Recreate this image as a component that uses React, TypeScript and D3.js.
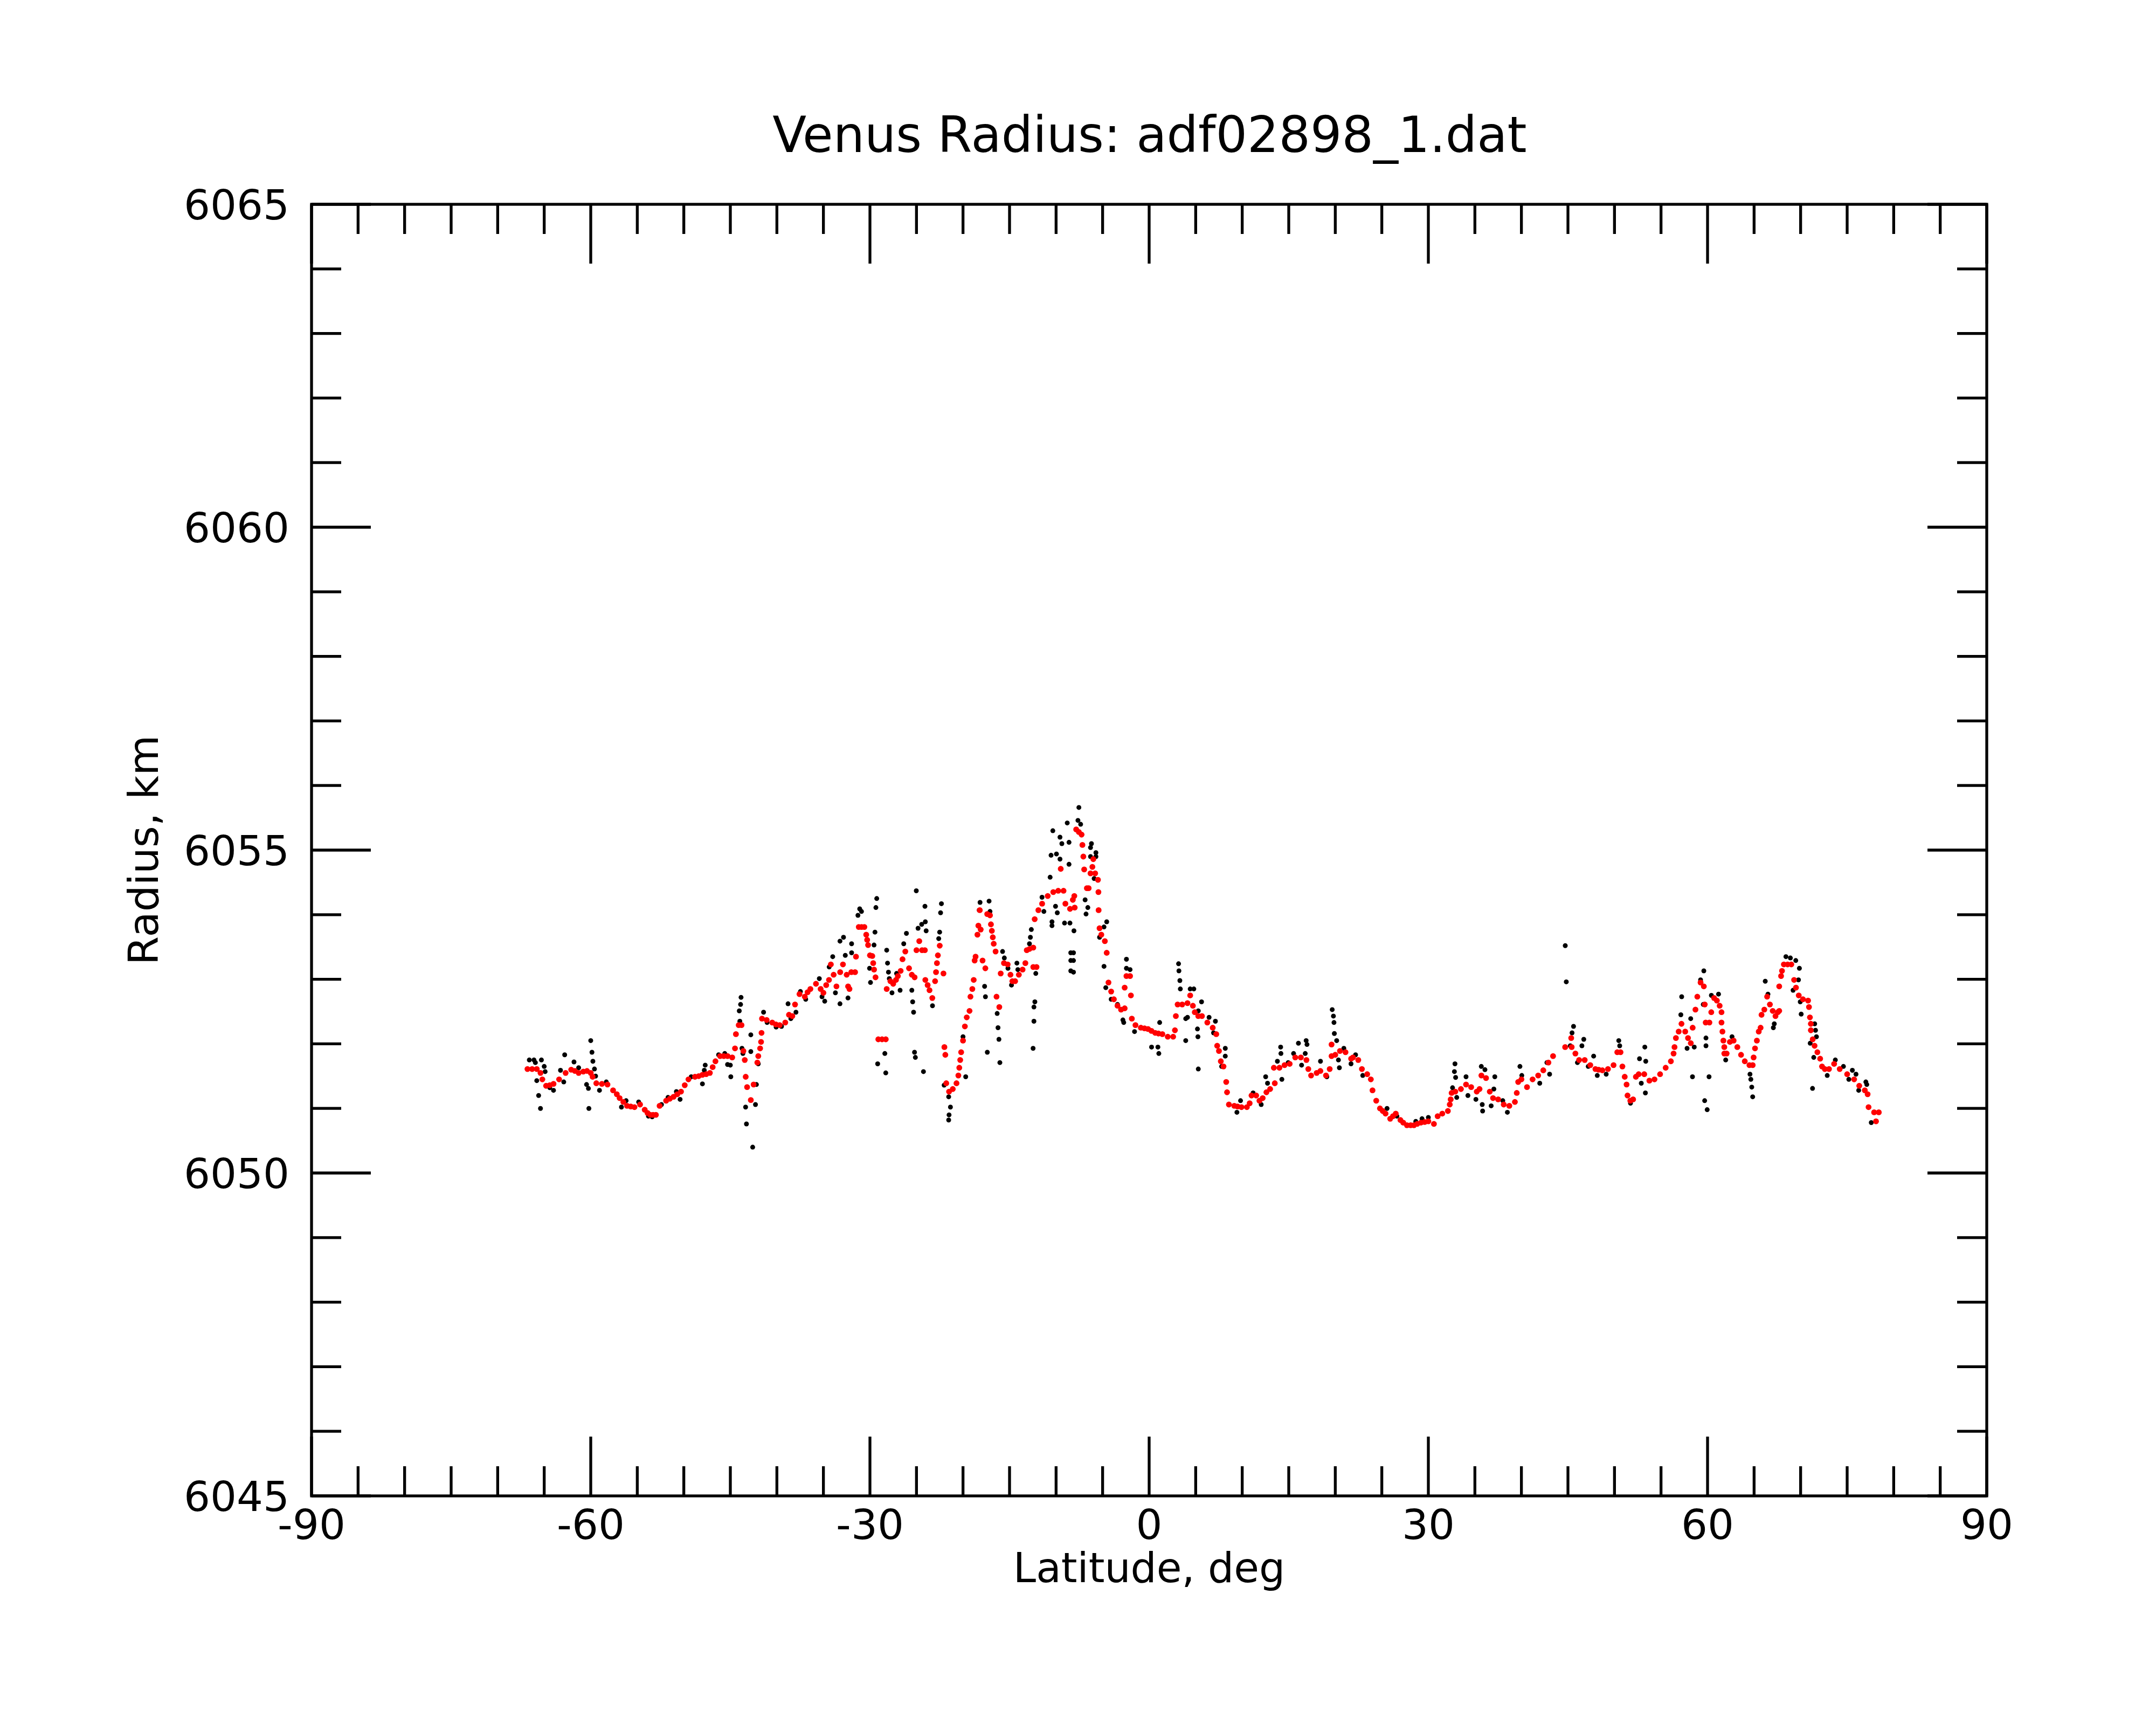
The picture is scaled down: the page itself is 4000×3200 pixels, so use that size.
import * as d3 from 'd3';

const WIDTH = 4000;
const HEIGHT = 3200;
const PLOT = { left: 578, right: 3686, top: 379, bottom: 2775 };

const TITLE = 'Venus Radius: adf02898_1.dat';
const X_LABEL = 'Latitude, deg';
const Y_LABEL = 'Radius, km';

const X_DOMAIN: [number, number] = [-90, 90];
const Y_DOMAIN: [number, number] = [6045, 6065];
const X_TICK_LABELS = [-90, -60, -30, 0, 30, 60, 90];
const Y_TICK_LABELS = [6045, 6050, 6055, 6060, 6065];

// smoothed radius (red), [latitude, radius km]
const smoothed: [number, number][] = [
  [-66.8, 6051.61], [-66.3, 6051.61], [-65.8, 6051.61], [-65.4, 6051.55], [-65.2, 6051.45], [-64.8, 6051.35],
  [-64.4, 6051.36], [-64.0, 6051.38], [-63.4, 6051.45], [-62.7, 6051.55], [-62.1, 6051.6], [-61.7, 6051.58],
  [-61.3, 6051.55], [-60.8, 6051.57], [-60.4, 6051.58], [-60.0, 6051.55], [-59.8, 6051.49], [-59.4, 6051.39],
  [-58.8, 6051.38], [-58.2, 6051.37], [-57.6, 6051.28], [-57.2, 6051.22], [-56.9, 6051.16], [-56.5, 6051.1],
  [-56.1, 6051.04], [-55.7, 6051.03], [-55.3, 6051.02], [-54.7, 6051.06], [-54.2, 6050.98], [-53.9, 6050.93],
  [-53.6, 6050.9], [-53.3, 6050.9], [-53.0, 6050.9], [-52.6, 6051.04], [-51.9, 6051.12], [-51.5, 6051.15],
  [-51.1, 6051.18], [-50.7, 6051.22], [-50.3, 6051.26], [-49.9, 6051.36], [-49.5, 6051.45], [-48.8, 6051.49],
  [-48.4, 6051.5], [-48.0, 6051.52], [-47.6, 6051.53], [-47.2, 6051.55], [-46.9, 6051.64], [-46.6, 6051.73],
  [-46.1, 6051.81], [-45.7, 6051.81], [-45.3, 6051.81], [-44.8, 6051.79], [-44.5, 6051.93], [-44.4, 6052.15],
  [-44.1, 6052.29], [-43.8, 6052.29], [-43.6, 6051.89], [-43.45, 6051.75], [-43.35, 6051.49], [-43.2, 6051.33],
  [-42.8, 6051.13], [-42.5, 6051.37], [-42.1, 6051.71], [-42.0, 6051.81], [-41.8, 6051.93], [-41.7, 6052.03],
  [-41.65, 6052.17], [-41.6, 6052.39], [-41.1, 6052.37], [-40.5, 6052.33], [-40.1, 6052.3], [-39.7, 6052.29],
  [-39.1, 6052.33], [-38.7, 6052.45], [-38.34, 6052.43], [-38.05, 6052.61], [-37.57, 6052.77], [-37.0, 6052.73],
  [-36.7, 6052.8], [-36.4, 6052.85], [-35.8, 6052.93], [-35.3, 6052.85], [-35.0, 6052.79], [-34.7, 6052.91],
  [-34.4, 6052.99], [-34.2, 6053.23], [-33.9, 6053.07], [-33.6, 6052.89], [-33.2, 6053.11], [-32.9, 6053.23],
  [-32.5, 6053.07], [-32.35, 6052.89], [-32.2, 6052.85], [-32.0, 6053.11], [-31.6, 6053.11], [-31.5, 6053.35],
  [-31.2, 6053.81], [-30.9, 6053.81], [-30.6, 6053.81], [-30.4, 6053.69], [-30.3, 6053.61], [-30.2, 6053.53],
  [-30.0, 6053.37], [-29.75, 6053.36], [-29.65, 6053.25], [-29.56, 6053.15], [-29.4, 6053.03], [-29.1, 6052.07],
  [-28.7, 6052.07], [-28.3, 6052.07], [-28.2, 6052.85], [-27.8, 6052.97], [-27.5, 6052.93], [-27.2, 6052.99],
  [-27.0, 6053.05], [-26.7, 6053.13], [-26.5, 6053.31], [-26.2, 6053.43], [-25.8, 6053.17], [-25.5, 6053.07],
  [-25.2, 6053.03], [-25.0, 6053.45], [-24.7, 6053.59], [-24.4, 6053.45], [-24.1, 6053.45], [-24.05, 6052.99],
  [-23.8, 6052.91], [-23.6, 6052.83], [-23.3, 6052.71], [-23.0, 6052.97], [-22.9, 6053.11], [-22.8, 6053.25],
  [-22.7, 6053.37], [-22.5, 6053.52], [-22.1, 6053.09], [-22.0, 6051.95], [-21.9, 6051.83], [-21.8, 6051.39],
  [-21.5, 6051.26], [-21.1, 6051.3], [-20.7, 6051.39], [-20.5, 6051.51], [-20.4, 6051.63], [-20.3, 6051.75],
  [-20.2, 6051.87], [-20.0, 6052.05], [-19.8, 6052.27], [-19.6, 6052.41], [-19.3, 6052.51], [-19.2, 6052.73],
  [-19.0, 6052.85], [-18.85, 6052.99], [-18.75, 6053.29], [-18.65, 6053.35], [-18.45, 6053.69], [-18.35, 6053.83],
  [-18.2, 6054.07], [-18.1, 6053.77], [-17.9, 6053.29], [-17.6, 6053.17], [-17.4, 6054.01], [-17.1, 6053.99],
  [-17.0, 6053.85], [-16.9, 6053.75], [-16.8, 6053.65], [-16.7, 6053.55], [-16.5, 6053.43], [-16.4, 6052.73],
  [-16.1, 6052.57], [-15.95, 6053.09], [-15.6, 6053.25], [-15.2, 6053.23], [-14.9, 6053.07], [-14.7, 6052.97],
  [-14.4, 6052.97], [-14.0, 6053.07], [-13.6, 6053.15], [-13.3, 6053.25], [-13.15, 6053.45], [-12.85, 6053.47],
  [-12.45, 6053.49], [-12.45, 6053.19], [-12.1, 6053.19], [-12.3, 6053.93], [-11.9, 6054.07], [-11.5, 6054.17],
  [-10.9, 6054.29], [-10.3, 6054.35], [-9.77, 6054.37], [-9.5, 6054.71], [-9.2, 6054.37], [-9.0, 6054.17],
  [-8.5, 6054.09], [-8.2, 6054.23], [-8.04, 6054.29], [-8.0, 6054.11], [-7.84, 6055.32], [-7.55, 6055.28],
  [-7.26, 6055.24], [-7.17, 6055.08], [-7.07, 6054.9], [-6.98, 6054.7], [-6.69, 6054.41], [-6.5, 6054.41],
  [-6.3, 6054.64], [-6.1, 6054.74], [-6.0, 6054.86], [-5.8, 6054.64], [-5.5, 6054.54], [-5.45, 6054.35],
  [-5.43, 6054.07], [-5.33, 6053.79], [-5.14, 6053.69], [-4.76, 6053.59], [-4.56, 6053.41], [-4.37, 6052.95],
  [-4.08, 6052.81], [-3.79, 6052.69], [-3.4, 6052.59], [-3.02, 6052.53], [-2.63, 6052.55], [-2.63, 6052.87],
  [-2.44, 6053.05], [-2.05, 6053.05], [-1.96, 6052.75], [-1.86, 6052.39], [-1.47, 6052.29], [-0.89, 6052.25],
  [-0.5, 6052.24], [-0.12, 6052.23], [0.25, 6052.2], [0.65, 6052.17], [1.0, 6052.16], [1.42, 6052.15],
  [2.0, 6052.11], [2.58, 6052.11], [2.77, 6052.21], [2.87, 6052.43], [3.06, 6052.61], [3.55, 6052.61],
  [4.12, 6052.63], [4.41, 6052.75], [4.7, 6052.59], [4.9, 6052.49], [5.28, 6052.43], [5.67, 6052.43],
  [6.25, 6052.33], [6.83, 6052.25], [7.21, 6052.15], [7.31, 6051.97], [7.5, 6051.89], [7.7, 6051.73],
  [7.99, 6051.65], [8.28, 6051.41], [8.37, 6051.25], [8.57, 6051.06], [9.15, 6051.04], [9.5, 6051.03],
  [9.92, 6051.02], [10.5, 6051.02], [10.8, 6051.08], [11.0, 6051.2], [11.5, 6051.2], [11.85, 6051.12],
  [12.2, 6051.16], [12.6, 6051.25], [13.0, 6051.3], [13.5, 6051.39], [13.4, 6051.63], [14.0, 6051.63],
  [14.55, 6051.67], [15.1, 6051.69], [15.7, 6051.79], [16.3, 6051.79], [16.9, 6051.75], [17.1, 6051.61],
  [17.4, 6051.51], [18.0, 6051.55], [18.4, 6051.58], [19.0, 6051.51], [19.4, 6051.61], [19.6, 6051.81],
  [19.6, 6051.99], [20.0, 6051.83], [20.5, 6051.89], [21.1, 6051.87], [21.7, 6051.77], [21.9, 6051.79],
  [22.47, 6051.75], [22.86, 6051.61], [23.43, 6051.53], [23.82, 6051.45], [24.0, 6051.28], [24.4, 6051.12],
  [24.8, 6051.0], [25.1, 6050.96], [25.4, 6050.92], [25.9, 6050.84], [26.2, 6050.88], [26.5, 6050.92],
  [27.0, 6050.82], [27.3, 6050.78], [27.7, 6050.74], [28.1, 6050.74], [28.45, 6050.74], [28.8, 6050.76],
  [29.2, 6050.78], [29.6, 6050.79], [30.0, 6050.8], [30.6, 6050.76], [31.0, 6050.88], [31.5, 6050.92],
  [32.1, 6050.96], [32.3, 6051.06], [32.4, 6051.14], [32.5, 6051.24], [32.9, 6051.26], [33.5, 6051.3],
  [34.05, 6051.37], [34.6, 6051.33], [35.2, 6051.26], [35.5, 6051.3], [35.7, 6051.51], [36.2, 6051.47],
  [36.6, 6051.26], [36.95, 6051.16], [37.5, 6051.14], [38.1, 6051.06], [38.7, 6051.04], [39.3, 6051.1],
  [39.5, 6051.24], [39.65, 6051.41], [40.0, 6051.45], [40.6, 6051.33], [41.2, 6051.45], [41.8, 6051.51],
  [42.35, 6051.59], [42.9, 6051.71], [43.4, 6051.81], [44.7, 6051.95], [45.35, 6052.09], [45.4, 6051.95],
  [45.8, 6051.85], [46.2, 6051.75], [46.8, 6051.75], [47.4, 6051.67], [47.95, 6051.61], [48.3, 6051.6],
  [48.7, 6051.59], [49.3, 6051.61], [49.9, 6051.67], [50.3, 6051.87], [50.65, 6051.87], [50.85, 6051.65],
  [51.1, 6051.49], [51.3, 6051.37], [51.4, 6051.2], [51.7, 6051.12], [52.0, 6051.14], [52.3, 6051.49],
  [52.6, 6051.53], [53.2, 6051.53], [53.75, 6051.43], [54.3, 6051.45], [54.9, 6051.53], [55.5, 6051.63],
  [56.06, 6051.73], [56.35, 6051.85], [56.45, 6051.95], [56.6, 6052.09], [56.9, 6052.19], [57.2, 6052.31],
  [57.6, 6052.19], [57.9, 6052.09], [58.2, 6052.01], [58.4, 6052.25], [58.7, 6052.53], [58.9, 6052.73],
  [59.25, 6052.95], [59.6, 6052.89], [59.7, 6052.61], [59.8, 6052.33], [60.2, 6052.33], [60.4, 6052.49],
  [60.7, 6052.71], [61.0, 6052.67], [61.3, 6052.59], [61.5, 6052.49], [61.5, 6052.33], [61.6, 6052.19],
  [61.7, 6052.05], [61.8, 6051.95], [61.8, 6051.85], [62.05, 6051.85], [62.4, 6052.03], [62.8, 6052.05],
  [63.2, 6051.95], [63.6, 6051.83], [64.0, 6051.73], [64.5, 6051.67], [64.85, 6051.67], [64.95, 6051.79],
  [65.1, 6051.93], [65.3, 6052.05], [65.5, 6052.19], [65.7, 6052.25], [65.8, 6052.45], [66.1, 6052.53],
  [66.4, 6052.73], [66.7, 6052.61], [67.0, 6052.51], [67.3, 6052.43], [67.55, 6052.49], [67.7, 6052.51],
  [67.7, 6052.89], [67.9, 6053.05], [68.0, 6053.13], [68.2, 6053.23], [68.6, 6053.23], [69.0, 6053.23],
  [69.3, 6052.99], [69.5, 6052.87], [69.8, 6052.75], [70.25, 6052.69], [70.8, 6052.67], [70.9, 6052.57],
  [71.0, 6052.41], [71.1, 6052.31], [71.1, 6052.21], [71.3, 6052.07], [71.5, 6051.97], [71.8, 6051.87],
  [72.1, 6051.77], [72.3, 6051.65], [72.6, 6051.61], [73.05, 6051.61], [73.6, 6051.69], [74.2, 6051.61],
  [75.0, 6051.53], [75.75, 6051.45], [76.3, 6051.35], [76.9, 6051.28], [77.2, 6051.22], [77.3, 6051.02],
  [77.9, 6050.94], [78.4, 6050.94], [78.1, 6050.8],
];

// raw radius samples (black), [latitude, radius km]
const raw: [number, number][] = [
  [-66.6, 6051.75], [-66.1, 6051.75], [-65.95, 6051.71], [-65.3, 6051.75], [-65.0, 6051.65], [-64.9, 6051.57],
  [-65.8, 6051.43], [-65.6, 6051.2], [-65.4, 6051.0], [-64.0, 6051.28], [-64.4, 6051.32], [-63.25, 6051.59],
  [-62.8, 6051.83], [-62.9, 6051.41], [-61.8, 6051.72], [-61.3, 6051.63], [-60.45, 6051.37], [-60.25, 6051.31],
  [-60.2, 6051.0], [-60.0, 6052.05], [-59.87, 6051.87], [-59.77, 6051.73], [-59.6, 6051.61], [-59.48, 6051.5],
  [-59.06, 6051.28], [-58.33, 6051.41], [-56.7, 6051.02], [-56.2, 6051.12], [-54.85, 6051.1], [-53.8, 6050.88],
  [-53.4, 6050.87], [-52.4, 6051.06], [-51.7, 6051.17], [-50.8, 6051.26], [-50.4, 6051.14], [-49.2, 6051.49],
  [-48.0, 6051.38], [-47.7, 6051.67], [-47.8, 6051.59], [-46.26, 6051.83], [-45.6, 6051.85], [-45.3, 6051.68],
  [-45.0, 6051.67], [-44.95, 6051.49], [-44.04, 6052.51], [-43.85, 6052.72], [-43.9, 6052.61], [-43.98, 6052.35],
  [-43.75, 6051.93], [-43.65, 6051.85], [-43.36, 6051.02], [-43.27, 6050.76], [-42.8, 6052.14], [-42.8, 6051.88],
  [-42.6, 6050.4], [-42.3, 6051.06], [-42.2, 6051.37], [-42.0, 6051.69], [-41.43, 6052.49], [-41.05, 6052.33],
  [-40.08, 6052.26], [-39.5, 6052.27], [-38.8, 6052.62], [-38.5, 6052.39],
  [-37.95, 6052.49], [-37.47, 6052.81], [-36.9, 6052.69], [-35.44, 6053.01], [-35.15, 6052.73], [-34.86, 6052.66],
  [-33.71, 6052.79], [-33.22, 6052.62], [-34.0, 6053.35], [-34.38, 6053.19], [-33.22, 6053.59], [-32.84, 6053.65],
  [-31.97, 6053.55], [-31.97, 6053.41], [-32.65, 6053.37], [-32.36, 6052.71], [-31.58, 6053.11], [-31.1, 6054.09],
  [-31.29, 6053.99], [-30.91, 6054.05], [-29.27, 6054.25], [-29.36, 6054.11], [-29.46, 6053.73], [-29.56, 6053.53],
  [-30.04, 6053.17], [-29.94, 6052.95], [-29.17, 6051.69], [-28.4, 6051.85], [-28.3, 6051.55], [-28.2, 6053.45],
  [-28.11, 6053.25], [-28.01, 6053.11], [-27.92, 6053.01], [-27.63, 6052.79], [-26.76, 6052.83], [-27.14, 6053.09],
  [-26.37, 6053.55], [-26.08, 6053.71], [-25.02, 6054.37], [-24.83, 6053.79], [-24.44, 6053.85], [-24.05, 6053.89],
  [-23.96, 6053.75], [-24.09, 6054.13], [-25.5, 6052.83], [-25.41, 6052.65], [-25.31, 6052.49], [-25.21, 6051.87],
  [-25.12, 6051.79], [-24.25, 6051.57], [-23.28, 6052.59], [-22.32, 6054.17], [-22.41, 6054.03], [-22.51, 6053.73],
  [-22.61, 6053.63], [-22.03, 6051.36], [-21.54, 6051.18], [-21.35, 6051.02], [-21.5, 6050.9], [-21.54, 6050.82],
  [-19.71, 6051.49], [-20.0, 6052.11], [-18.17, 6054.19], [-17.2, 6054.21], [-17.1, 6054.05], [-18.26, 6054.07],
  [-17.68, 6052.89], [-17.59, 6052.73], [-17.39, 6051.87], [-16.33, 6052.47], [-16.24, 6052.25], [-16.14, 6052.07],
  [-16.04, 6051.71], [-15.75, 6053.43], [-15.56, 6053.33], [-15.17, 6053.17], [-14.79, 6052.91], [-14.21, 6053.25],
  [-14.11, 6053.15], [-12.66, 6053.77], [-12.76, 6053.65], [-12.86, 6053.55], [-12.18, 6053.09], [-12.28, 6052.65],
  [-12.38, 6052.57], [-12.38, 6052.35], [-12.47, 6051.93], [-11.51, 6054.27], [-11.31, 6054.05], [-10.64, 6054.58],
  [-10.54, 6054.92], [-10.35, 6055.3], [-9.58, 6055.2], [-9.38, 6055.1], [-9.96, 6054.94], [-9.58, 6054.86],
  [-10.44, 6053.89], [-10.44, 6053.83], [-10.06, 6054.13], [-9.87, 6054.03], [-8.8, 6055.42], [-8.61, 6055.12],
  [-8.61, 6054.78], [-9.09, 6053.87], [-8.51, 6053.87], [-8.42, 6053.41], [-8.42, 6053.29], [-8.42, 6053.13],
  [-7.55, 6055.66], [-7.65, 6055.46], [-7.36, 6055.4], [-6.2, 6055.1], [-6.3, 6055.04], [-5.72, 6054.96],
  [-5.72, 6054.9], [-6.3, 6054.9], [-8.08, 6053.75], [-6.88, 6054.23], [-6.59, 6054.11], [-6.78, 6054.01],
  [-8.13, 6053.41], [-8.13, 6053.29], [-8.13, 6053.11], [-5.91, 6054.56], [-4.56, 6053.89], [-4.85, 6053.81],
  [-5.33, 6053.65], [-4.85, 6053.2], [-4.66, 6052.87], [-2.44, 6053.31], [-2.44, 6053.17], [-2.05, 6053.15],
  [-4.08, 6052.69], [-3.4, 6052.61], [-2.82, 6052.37], [-2.73, 6052.33], [-1.57, 6052.19], [0.26, 6051.95],
  [0.94, 6051.95], [1.04, 6051.85], [1.13, 6052.33], [3.16, 6053.24], [3.2, 6053.13], [3.3, 6052.98],
  [3.35, 6052.85], [3.93, 6052.39], [3.93, 6052.05], [4.12, 6052.41], [4.41, 6052.85], [4.8, 6052.85],
  [5.63, 6052.65], [5.28, 6052.51], [5.19, 6052.23], [5.24, 6052.11], [5.28, 6051.61], [6.44, 6052.41],
  [7.12, 6052.35], [6.92, 6052.17], [8.18, 6051.93], [8.18, 6051.81], [7.79, 6051.65], [9.43, 6050.94],
  [9.82, 6051.12], [11.17, 6051.24], [12.52, 6051.49], [12.72, 6051.39], [12.04, 6051.06], [14.13, 6051.95],
  [14.16, 6051.85], [13.78, 6051.73], [14.26, 6051.45], [14.94, 6051.71], [16.04, 6052.01], [15.52, 6051.85],
  [16.38, 6051.67], [16.87, 6052.05], [16.96, 6051.99], [16.77, 6051.85], [18.41, 6051.73], [19.09, 6051.49],
  [19.67, 6052.53], [19.8, 6052.43], [19.86, 6052.33], [19.9, 6052.16], [20.15, 6052.05], [20.34, 6051.75],
  [20.44, 6051.63], [20.92, 6051.93], [21.69, 6051.69],
  [22.18, 6051.83], [22.95, 6051.51], [25.56, 6051.0], [26.62, 6050.88], [28.65, 6050.8], [29.32, 6050.84],
  [30.0, 6050.86], [32.86, 6051.69], [32.8, 6051.57], [32.93, 6051.48], [32.6, 6051.32], [33.05, 6051.17],
  [34.05, 6051.49], [34.25, 6051.2], [35.11, 6051.14], [35.69, 6051.65], [36.08, 6051.6], [35.79, 6051.06],
  [35.83, 6050.96], [37.14, 6051.49], [37.04, 6051.3], [36.75, 6051.04], [38.0, 6051.12], [38.49, 6050.94],
  [39.84, 6051.65], [40.04, 6051.51], [41.97, 6051.39], [42.74, 6051.71], [43.03, 6051.53], [44.71, 6053.52],
  [44.82, 6052.96], [45.6, 6052.27], [45.44, 6052.17], [45.25, 6051.97], [46.7, 6052.07], [46.5, 6051.97],
  [46.02, 6051.71], [47.76, 6051.81], [47.18, 6051.65], [48.15, 6051.51], [49.11, 6051.53], [50.46, 6052.05],
  [50.56, 6051.97], [51.72, 6051.08],
  [53.26, 6051.95], [52.69, 6051.77], [53.36, 6051.73], [53.32, 6051.24], [52.88, 6051.39], [57.22, 6052.73],
  [57.13, 6052.45], [58.19, 6052.39], [58.38, 6051.49], [57.8, 6051.93], [58.57, 6051.95], [59.6, 6053.13],
  [59.25, 6052.99], [59.54, 6052.61], [59.83, 6052.09], [59.83, 6051.97], [60.16, 6051.49], [59.69, 6051.12],
  [59.96, 6050.98], [60.41, 6052.75], [61.18, 6052.77], [61.95, 6051.75], [62.63, 6052.11], [64.56, 6051.53],
  [64.65, 6051.45], [64.75, 6051.33], [64.85, 6051.18], [66.2, 6052.97], [66.49, 6052.77], [67.07, 6052.25],
  [67.17, 6052.31], [68.42, 6053.35], [68.9, 6053.33], [69.48, 6053.29], [69.87, 6053.17], [69.77, 6052.99],
  [69.19, 6052.83], [69.96, 6052.65], [70.06, 6052.46], [71.51, 6052.31], [71.6, 6052.21], [71.7, 6052.11],
  [71.03, 6052.01], [71.41, 6051.79], [71.28, 6051.31], [72.86, 6051.51], [73.73, 6051.75], [74.6, 6051.65],
  [75.56, 6051.59], [75.95, 6051.53], [75.18, 6051.45], [76.24, 6051.28], [77.01, 6051.41], [77.11, 6051.37],
  [77.59, 6050.78],
];

const FONT = 'DejaVu Sans, Verdana, sans-serif';
const STROKE = 5.3;
const MINOR_TICK = 55;
const MAJOR_TICK = 110;

export default function App() {
  const x = d3.scaleLinear().domain(X_DOMAIN).range([PLOT.left, PLOT.right]);
  const y = d3.scaleLinear().domain(Y_DOMAIN).range([PLOT.bottom, PLOT.top]);

  const xTicks = d3.range(-90, 91, 5);
  const yTicks = d3.range(6045, 6066, 1);

  const cx = (PLOT.left + PLOT.right) / 2;
  const cy = (PLOT.top + PLOT.bottom) / 2;

  return (
    <svg
      width={WIDTH}
      height={HEIGHT}
      style={{ position: 'absolute', left: 0, top: 0, background: '#fff' }}
      fontFamily={FONT}
    >
      <rect x={0} y={0} width={WIDTH} height={HEIGHT} fill="#fff" />

      {/* raw samples first, smoothed on top */}
      {raw.map(([lat, r], i) => (
        <circle key={'b' + i} cx={x(lat)} cy={y(r)} r={4.5} fill="#000" />
      ))}
      {smoothed.map(([lat, r], i) => (
        <circle key={'r' + i} cx={x(lat)} cy={y(r)} r={5.4} fill="#ff0000" />
      ))}

      {/* ticks, all four sides, pointing inward */}
      {xTicks.map((t) => {
        const len = t % 30 === 0 ? MAJOR_TICK : MINOR_TICK;
        return (
          <g key={'xt' + t} stroke="#000" strokeWidth={STROKE}>
            <line x1={x(t)} x2={x(t)} y1={PLOT.bottom} y2={PLOT.bottom - len} />
            <line x1={x(t)} x2={x(t)} y1={PLOT.top} y2={PLOT.top + len} />
          </g>
        );
      })}
      {yTicks.map((t) => {
        const len = t % 5 === 0 ? MAJOR_TICK : MINOR_TICK;
        return (
          <g key={'yt' + t} stroke="#000" strokeWidth={STROKE}>
            <line x1={PLOT.left} x2={PLOT.left + len} y1={y(t)} y2={y(t)} />
            <line x1={PLOT.right} x2={PLOT.right - len} y1={y(t)} y2={y(t)} />
          </g>
        );
      })}

      <rect
        x={PLOT.left}
        y={PLOT.top}
        width={PLOT.right - PLOT.left}
        height={PLOT.bottom - PLOT.top}
        fill="none"
        stroke="#000"
        strokeWidth={STROKE}
      />

      {X_TICK_LABELS.map((t) => (
        <text key={'xl' + t} x={x(t)} y={2855} fontSize={77} textAnchor="middle" fill="#000">
          {t}
        </text>
      ))}
      {Y_TICK_LABELS.map((t) => (
        <text key={'yl' + t} x={537} y={y(t) + 28} fontSize={77} textAnchor="end" fill="#000">
          {t}
        </text>
      ))}

      <text x={2133} y={282} fontSize={92} textAnchor="middle" fill="#000">
        {TITLE}
      </text>
      <text x={cx} y={2935} fontSize={76} textAnchor="middle" fill="#000">
        {X_LABEL}
      </text>
      <text
        transform={`translate(293, ${cy}) rotate(-90)`}
        fontSize={77}
        textAnchor="middle"
        fill="#000"
      >
        {Y_LABEL}
      </text>
    </svg>
  );
}
